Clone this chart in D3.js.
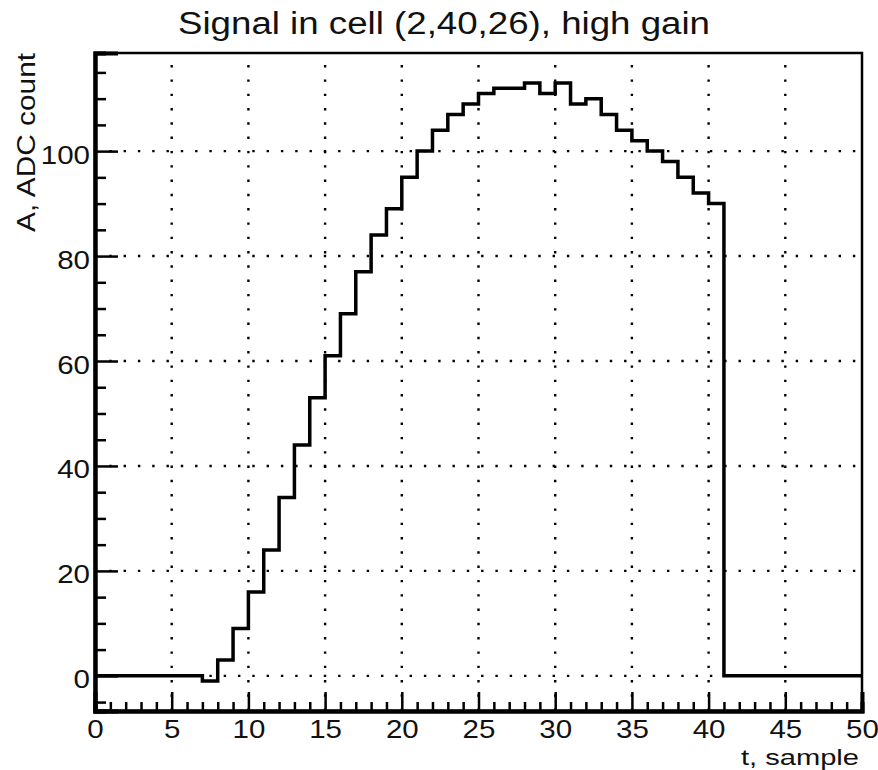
<!DOCTYPE html>
<html>
<head>
<meta charset="utf-8">
<script src="https://cdn.jsdelivr.net/npm/d3@7"></script>
<style>
  body { margin: 0; background: #fff; }
  text { font-family: "Liberation Sans", Arial, Helvetica, sans-serif; fill: #111; }
</style>
</head>
<body>
<div id="chart"></div>
<script>
// histogram content, one value per 1-sample bin from t=0 to t=50
const sampleValues = [0, 0, 0, 0, 0, 0, 0, -1, 3, 9,
                      16, 24, 34, 44, 53, 61, 69, 77, 84, 89,
                      95, 100, 104, 107, 109, 111, 112, 112, 113, 111,
                      113, 109, 110, 107, 104, 102, 100, 98, 95, 92,
                      90, 0, 0, 0, 0, 0, 0, 0, 0, 0];
const xTicks = [0, 5, 10, 15, 20, 25, 30, 35, 40, 45, 50];
const yTicks = [0, 20, 40, 60, 80, 100];
const titleText = "Signal in cell (2,40,26), high gain";
const xTitle = "t, sample";
const yTitle = "A, ADC count";

const width = 878, height = 770;
const margin = { left: 95, right: 16, top: 53, bottom: 59 };
// the text in the picture is a bit wider than plain Helvetica
const stretch = 1.18;

const svg = d3.select("#chart").append("svg")
    .attr("width", width)
    .attr("height", height);

// ROOT style range: 5% padding around min/max
const yMin = d3.min(sampleValues), yMax = d3.max(sampleValues);
const pad = 0.05 * (yMax - yMin);

const x = d3.scaleLinear().domain([0, sampleValues.length]).range([margin.left, width - margin.right]);
const y = d3.scaleLinear().domain([yMin - pad, yMax + pad]).range([height - margin.bottom, margin.top]);

const x0 = x.range()[0], x1 = x.range()[1];
const y0 = y.range()[0], y1 = y.range()[1];

// dotted grid at major ticks
svg.append("g").selectAll("line.gx")
    .data(xTicks.slice(1, -1))
    .join("line")
    .attr("x1", d => x(d)).attr("x2", d => x(d))
    .attr("y1", y0).attr("y2", y1)
    .attr("stroke", "#000")
    .attr("stroke-width", 2.4)
    .attr("stroke-dasharray", "2.4,11.9");

svg.append("g").selectAll("line.gy")
    .data(yTicks)
    .join("line")
    .attr("x1", x0).attr("x2", x1)
    .attr("y1", d => y(d)).attr("y2", d => y(d))
    .attr("stroke", "#000")
    .attr("stroke-width", 2.4)
    .attr("stroke-dasharray", "2.4,11.9");

// histogram outline
const stepPts = sampleValues.map((v, i) => [i, v]);
stepPts.push([sampleValues.length, sampleValues[sampleValues.length - 1]]);

const line = d3.line()
    .x(d => x(d[0]))
    .y(d => y(d[1]))
    .curve(d3.curveStepAfter);

svg.append("path")
    .datum(stepPts)
    .attr("d", line)
    .attr("fill", "none")
    .attr("stroke", "#000")
    .attr("stroke-width", 3.5)
    .attr("stroke-linejoin", "miter");

// frame
svg.append("rect")
    .attr("x", x0).attr("y", y1)
    .attr("width", x1 - x0).attr("height", y0 - y1)
    .attr("fill", "none")
    .attr("stroke", "#000")
    .attr("stroke-width", 2.5);

// x axis: major every 5, minor every 1
const xMinor = d3.range(0, 51, 1).filter(d => d % 5 !== 0);
const xAxis = svg.append("g").attr("transform", `translate(0,${y0})`);
xAxis.call(d3.axisBottom(x).tickValues(xMinor).tickSize(-9).tickFormat(""));
xAxis.append("g").call(d3.axisBottom(x).tickValues(xTicks).tickSize(-19).tickFormat(d3.format("d")).tickPadding(27));
xAxis.selectAll("line").attr("stroke", "#000").attr("stroke-width", 2.5);
xAxis.selectAll(".domain").attr("stroke", "#000").attr("stroke-width", 4);
xAxis.selectAll("text").attr("font-size", 25).attr("fill", "#222").attr("dy", "0")
    .attr("transform", `scale(${stretch},1)`);

// y axis: major every 20, minor every 5
const yMinor = d3.range(-5, 120, 5).filter(d => d % 20 !== 0);
const yAxis = svg.append("g").attr("transform", `translate(${x0},0)`);
yAxis.call(d3.axisLeft(y).tickValues(yMinor).tickSize(-11).tickFormat(""));
yAxis.append("g").call(d3.axisLeft(y).tickValues(yTicks).tickSize(-23).tickFormat(d3.format("d")).tickPadding(5));
yAxis.selectAll("line").attr("stroke", "#000").attr("stroke-width", 2.5);
yAxis.selectAll(".domain").attr("stroke", "#000").attr("stroke-width", 4);
yAxis.selectAll("text").attr("font-size", 25).attr("fill", "#222").attr("dy", "0.48em")
    .attr("x", -5 / stretch)
    .attr("transform", `scale(${stretch},1)`);

// titles
svg.append("text")
    .attr("x", 444)
    .attr("y", 34)
    .attr("text-anchor", "middle")
    .attr("font-size", 31)
    .attr("textLength", 532)
    .attr("lengthAdjust", "spacingAndGlyphs")
    .text(titleText);

svg.append("text")
    .attr("x", x1 - 3)
    .attr("y", 765)
    .attr("text-anchor", "end")
    .attr("font-size", 22)
    .attr("textLength", 118)
    .attr("lengthAdjust", "spacingAndGlyphs")
    .text(xTitle);

svg.append("text")
    .attr("transform", `translate(35,${y1}) rotate(-90)`)
    .attr("text-anchor", "end")
    .attr("font-size", 25)
    .attr("textLength", 179)
    .attr("lengthAdjust", "spacingAndGlyphs")
    .text(yTitle);
</script>
</body>
</html>
